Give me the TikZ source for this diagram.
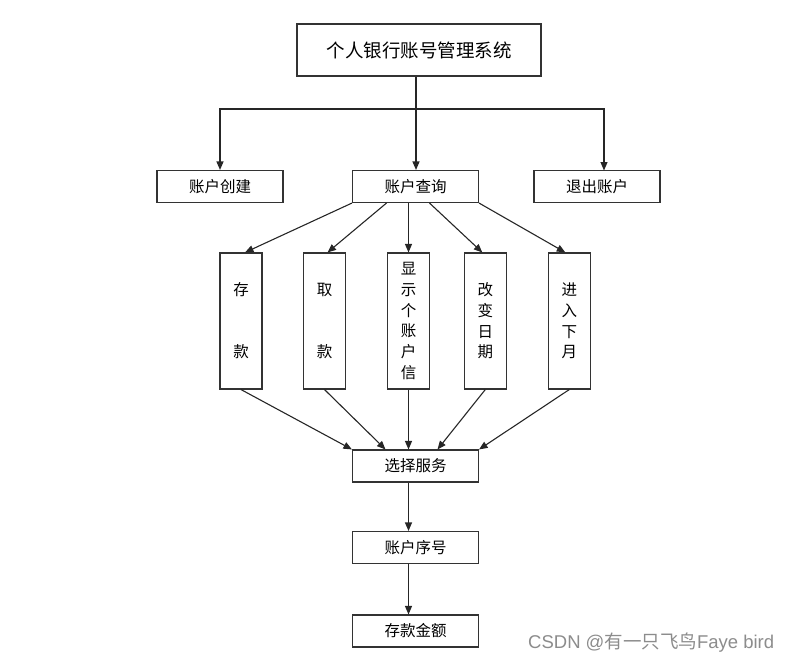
\documentclass[tikz,border=0pt]{standalone}
\usepackage{fontspec}
\setmainfont{Noto Sans CJK SC}
\newfontfamily\arialfont{Liberation Sans}
\usetikzlibrary{positioning,arrows.meta,calc}

\begin{document}
\begin{tikzpicture}[x=1pt, y=-1pt,
  titlebox/.style={draw=black!80, line width=1.1pt, minimum width=244pt, minimum height=52pt, inner sep=0pt, font={\fontsize{18.5}{22}\selectfont}},
  wbox/.style={draw=black!80, line width=1.1pt, minimum width=126pt, minimum height=32pt, inner sep=0pt, font={\fontsize{15.5}{19}\selectfont}},
  tbox/.style={draw=black!80, line width=1.1pt, minimum width=42pt, minimum height=136pt, inner sep=0pt, align=center, font={\fontsize{15.5}{20.7}\selectfont}},
  link/.style={draw=black!85, line width=1.1pt, -{Triangle[length=8.5pt,width=7pt]}}
]
\useasboundingbox (0,0) rectangle (792,664);
% top level
\node[titlebox] (sys) at (419,50) {个人银行账号管理系统};
\node[wbox] (create) at (220,186.5) {账户创建};
\node[wbox] (query) at (415.5,186.5) {账户查询};
\node[wbox] (quit) at (597,186.5) {退出账户};
% services
\node[tbox] (dep) at (241,321) {存\\ \\ \\款};
\node[tbox] (wd) at (324.5,321) {取\\ \\ \\款};
\node[tbox] (show) at (408.5,321) {显\\示\\个\\账\\户\\信};
\node[tbox] (date) at (485.3,321) {改\\变\\日\\期};
\node[tbox] (month) at (569.3,321) {进\\入\\下\\月};
% bottom chain
\node[wbox] (sel) at (415.5,466) {选择服务};
\node[wbox] (seq) at (415.5,547.5) {账户序号};
\node[wbox] (amt) at (415.5,631) {存款金额};
\node[text=black!45, font={\fontsize{18.5}{21}\selectfont}, anchor=west, inner sep=0pt] (mark) at (528,643) {{\arialfont CSDN @}有一只飞鸟{\arialfont Faye bird}};

\coordinate (hub) at (416,109);
\coordinate (quitin) at (604,170.5);
\draw[link] (hub |- sys.south) -- (hub |- query.north);
\draw[link] (hub) -| (create.north);
\draw[link] (hub) -| (quitin);

\draw[link] (query.south west) -- ([xshift=4]dep.north);
\draw[link] ([xshift=-29]query.south) -- ([xshift=3]wd.north);
\draw[link] (show |- query.south) -- (show.north);
\draw[link] ([xshift=14]query.south) -- ([xshift=-3]date.north);
\draw[link] (query.south east) -- ([xshift=-4]month.north);

\draw[link] (dep.south) -- (sel.north west);
\draw[link] (wd.south) -- ([xshift=-30]sel.north);
\draw[link] (show.south) -- (show |- sel.north);
\draw[link] (date.south) -- ([xshift=22]sel.north);
\draw[link] (month.south) -- (sel.north east);

\draw[link] (show |- sel.south) -- (show |- seq.north);
\draw[link] (show |- seq.south) -- (show |- amt.north);
\end{tikzpicture}
\end{document}
